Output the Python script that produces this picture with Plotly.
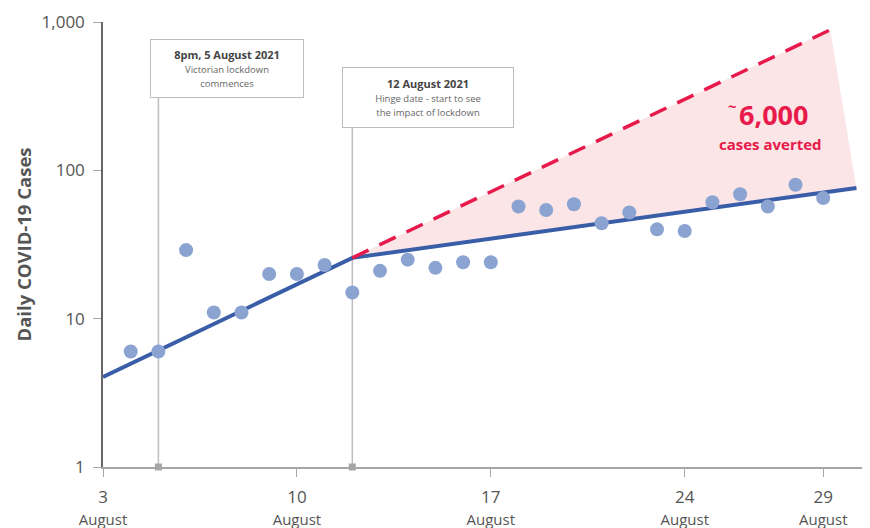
import plotly.graph_objects as go

# ---- data ----
days = list(range(4, 30))
cases = [6, 6, 29, 11, 11, 20, 20, 23, 15, 21, 25, 22, 24, 24,
         57, 54, 59, 44, 52, 40, 39, 61, 69, 57, 80, 65]

fit_x = [3, 12, 30.2]
fit_y = [4.05, 25.7, 76]

cf_x = [12, 29.25]
cf_y = [25.7, 885]

event_days = [5, 12]
tick_days = [3, 10, 17, 24, 29]
tick_labels = [f"{d}<br><span style='font-size:15px'>August</span>" for d in tick_days]

FONT = "Open Sans"
RED = "#e8194b"

# The page body adds an 8px margin, so the figure is 8px smaller and
# everything is expressed in window pixels minus 8.
OFF = 8
PL, PR, PT, PB = 103, 862, 22, 467  # plot area in window pixels


def px_x(p):
    return (p - PL) / (PR - PL)


def px_y(p):
    return (PB - p) / (PB - PT)


fig = go.Figure()

# shaded averted region
fig.add_trace(go.Scatter(
    x=[fit_x[1], cf_x[1], fit_x[2], fit_x[1]],
    y=[fit_y[1], cf_y[1], fit_y[2], fit_y[1]],
    mode="lines", fill="toself", fillcolor="#fbe5e6",
    line=dict(width=0), hoverinfo="skip", showlegend=False))

# fitted line
fig.add_trace(go.Scatter(x=fit_x, y=fit_y, mode="lines",
                         line=dict(color="#3a5da8", width=4), showlegend=False))
# counterfactual dashed
fig.add_trace(go.Scatter(x=cf_x, y=cf_y, mode="lines",
                         line=dict(color=RED, width=3.5, dash="18px,12px"), showlegend=False))
# daily cases
fig.add_trace(go.Scatter(x=days, y=cases, mode="markers",
                         marker=dict(color="#8aa3d1", size=14), showlegend=False))
# event markers on axis
fig.add_trace(go.Scatter(x=event_days, y=[1, 1], mode="markers", cliponaxis=False,
                         marker=dict(color="#a6a6a6", size=7, symbol="square"),
                         showlegend=False))

# vertical event lines
for d, top in zip(event_days, [px_y(97), px_y(127)]):
    fig.add_shape(type="line", xref="x", yref="paper", x0=d, x1=d, y0=0, y1=top,
                  line=dict(color="#bdbdbd", width=1.5), layer="below")

# annotation boxes
fig.add_annotation(
    xref="paper", yref="paper", x=px_x(227), y=px_y(68.5), showarrow=False,
    xanchor="center", yanchor="middle",
    text="<b>8pm, 5 August 2021</b><br><span style='font-size:9.5px;color:#666'>Victorian lockdown<br>commences</span>",
    font=dict(family=FONT, size=11, color="#444"), align="center",
    width=150, height=55, bordercolor="#bdbdbd", borderwidth=1, bgcolor="white")
fig.add_annotation(
    xref="paper", yref="paper", x=px_x(428), y=px_y(97.5), showarrow=False,
    xanchor="center", yanchor="middle",
    text="<b>12 August 2021</b><br><span style='font-size:9.5px;color:#666'>Hinge date - start to see<br>the impact of lockdown</span>",
    font=dict(family=FONT, size=11, color="#444"), align="center",
    width=168, height=57, bordercolor="#bdbdbd", borderwidth=1, bgcolor="white")

# averted label
fig.add_annotation(
    xref="paper", yref="paper", x=px_x(773), y=px_y(114.5), showarrow=False,
    xanchor="center", yanchor="middle",
    text="6,000", font=dict(family=FONT, size=27, color=RED, weight="bold"))
fig.add_annotation(
    xref="paper", yref="paper", x=px_x(732), y=px_y(106), showarrow=False,
    xanchor="center", yanchor="middle",
    text="~", font=dict(family=FONT, size=15, color=RED, weight="bold"))
fig.add_annotation(
    xref="paper", yref="paper", x=px_x(770), y=px_y(143.5), showarrow=False,
    xanchor="center", yanchor="middle",
    text="cases averted", font=dict(family=FONT, size=15, color=RED, weight="bold"))

fig.update_layout(
    width=870 - OFF, height=528 - OFF,
    margin=dict(l=PL - OFF, r=870 - OFF - (PR - OFF), t=PT - OFF, b=528 - PB),
    paper_bgcolor="white", plot_bgcolor="white",
    font=dict(family=FONT, color="#555"),
    xaxis=dict(range=[3, 30.4], showgrid=False, zeroline=False, showline=True,
               linecolor="#a6a6a6", linewidth=1.5, ticks="outside", ticklen=8,
               tickcolor="#a6a6a6", tickvals=tick_days, ticktext=tick_labels,
               ticklabelstandoff=6,
               tickfont=dict(size=17, color="#555"), automargin=False),
    yaxis=dict(type="log", range=[0, 3], showgrid=False, zeroline=False, showline=True,
               linecolor="#666", linewidth=1.5, ticks="outside", ticklen=8,
               tickcolor="#a6a6a6", tickvals=[1, 10, 100, 1000],
               ticktext=["1", "10", "100", "1,000"], ticklabelstandoff=5,
               tickfont=dict(size=17, color="#555"), automargin=False,
               title=dict(text="<b>Daily COVID-19 Cases</b>", standoff=5,
                          font=dict(size=18.5, color="#555"))),
)

fig.write_html("out.html")
